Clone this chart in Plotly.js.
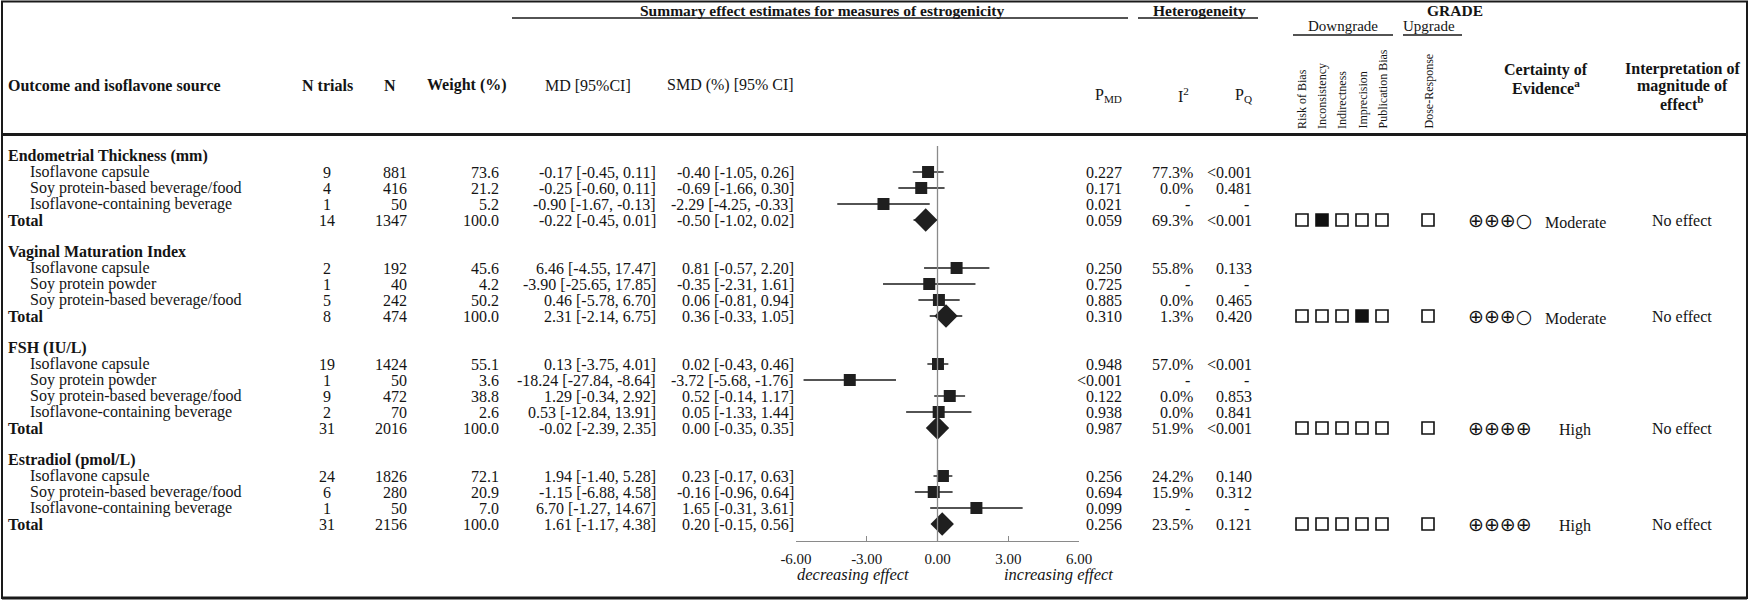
<!DOCTYPE html>
<html><head><meta charset="utf-8">
<script src="https://cdn.plot.ly/plotly-3.0.1.min.js"></script>
<style>html,body{margin:0;padding:0;background:#fff}</style>
</head><body><div id="chart" style="width:1750px;height:603px"></div>
<script>
// ---------------- DATA ----------------
const groupNames = ["Endometrial Thickness (mm)","Vaginal Maturation Index","FSH (IU/L)","Estradiol (pmol/L)"];
const rowGroup = [0,0,0,0, 1,1,1,1, 2,2,2,2,2, 3,3,3,3];
const sourceNames = [
 "Isoflavone capsule","Soy protein-based beverage/food","Isoflavone-containing beverage","Total",
 "Isoflavone capsule","Soy protein powder","Soy protein-based beverage/food","Total",
 "Isoflavone capsule","Soy protein powder","Soy protein-based beverage/food","Isoflavone-containing beverage","Total",
 "Isoflavone capsule","Soy protein-based beverage/food","Isoflavone-containing beverage","Total"];
const nTrials = [9,4,1,14, 2,1,5,8, 19,1,9,2,31, 24,6,1,31];
const nParticipants = [881,416,50,1347, 192,40,242,474, 1424,50,472,70,2016, 1826,280,50,2156];
const weightPct = [73.6,21.2,5.2,100.0, 45.6,4.2,50.2,100.0, 55.1,3.6,38.8,2.6,100.0, 72.1,20.9,7.0,100.0];
const md     = [-0.17,-0.25,-0.90,-0.22, 6.46,-3.90,0.46,2.31, 0.13,-18.24,1.29,0.53,-0.02, 1.94,-1.15,6.70,1.61];
const mdLow  = [-0.45,-0.60,-1.67,-0.45, -4.55,-25.65,-5.78,-2.14, -3.75,-27.84,-0.34,-12.84,-2.39, -1.40,-6.88,-1.27,-1.17];
const mdHigh = [0.11,0.11,-0.13,0.01, 17.47,17.85,6.70,6.75, 4.01,-8.64,2.92,13.91,2.35, 5.28,4.58,14.67,4.38];
const smd     = [-0.40,-0.69,-2.29,-0.50, 0.81,-0.35,0.06,0.36, 0.02,-3.72,0.52,0.05,0.00, 0.23,-0.16,1.65,0.20];
const smdLow  = [-1.05,-1.66,-4.25,-1.02, -0.57,-2.31,-0.81,-0.33, -0.43,-5.68,-0.14,-1.33,-0.35, -0.17,-0.96,-0.31,-0.15];
const smdHigh = [0.26,0.30,-0.33,0.02, 2.20,1.61,0.94,1.05, 0.46,-1.76,1.17,1.44,0.35, 0.63,0.64,3.61,0.56];
const pMD = ["0.227","0.171","0.021","0.059", "0.250","0.725","0.885","0.310", "0.948","<0.001","0.122","0.938","0.987", "0.256","0.694","0.099","0.256"];
const iSquared = ["77.3%","0.0%","-","69.3%", "55.8%","-","0.0%","1.3%", "57.0%","-","0.0%","0.0%","51.9%", "24.2%","15.9%","-","23.5%"];
const pQ = ["<0.001","0.481","-","<0.001", "0.133","-","0.465","0.420", "<0.001","-","0.853","0.841","<0.001", "0.140","0.312","-","0.121"];
const gradeCriteria = ["Risk of Bias","Inconsistency","Indirectness","Imprecision","Publication Bias"];
const downgradeFlags = [[0,1,0,0,0],[0,0,0,1,0],[0,0,0,0,0],[0,0,0,0,0]];
const doseResponse = [0,0,0,0];
const certaintySymbols = ["\u2295\u2295\u2295\u25CB","\u2295\u2295\u2295\u25CB","\u2295\u2295\u2295\u2295","\u2295\u2295\u2295\u2295"];
const certaintyLevel = ["Moderate","Moderate","High","High"];
const interpretation = ["No effect","No effect","No effect","No effect"];
const tickValues = [-6,-3,0,3,6];
const tickLabels = ["-6.00","-3.00","0.00","3.00","6.00"];
const decreasingLabel = "decreasing effect", increasingLabel = "increasing effect";

// ---------------- LAYOUT HELPERS ----------------
const W = 1750, H = 603;
const ROW0 = 156, ROWH = 16;
const FONT = "Liberation Serif, Times New Roman, serif";
const INK = "#141414";
const BODY = 16;
const px = v => v / W;
const py = v => 1 - v / H;

// row positions
const rowPos = [], headerPos = [];
let r = 0, prev = -1;
rowGroup.forEach((g) => {
  if (g !== prev) { if (prev >= 0) r += 1; headerPos.push(r); r += 1; prev = g; }
  rowPos.push(r); r += 1;
});
const isTotal = sourceNames.map(s => s === "Total");
const totalRowOfGroup = groupNames.map((_, g) => rowPos[rowGroup.findIndex((gg, i) => gg === g && isTotal[i])]);

const COL = {label: 7, indent: 29, ntr: 327, n: 408, w: 500, md: 657, smd: 795,
  pmd: 1123, i2: 1194, pq: 1253, grade: [1302, 1322, 1342, 1362, 1382], dose: 1428,
  cert: 1500, certLbl: 1575, interp: 1682};

const ann = [];
function T(text, x, y, opts) {
  opts = opts || {};
  ann.push(Object.assign({
    text: text, x: x, y: y, xref: opts.xref || "paper", yref: opts.yref || "y",
    showarrow: false, xanchor: opts.xa || "left", yanchor: opts.ya || "middle",
    font: {family: opts.family || FONT, size: opts.size || BODY, color: INK},
    borderpad: 0
  }, opts.extra || {}));
}
const f2 = v => v.toFixed(2);

// group headers
groupNames.forEach((g, i) => T("<b>" + g + "</b>", px(COL.label), headerPos[i]));
// rows
sourceNames.forEach((s, i) => {
  const y = rowPos[i];
  if (isTotal[i]) T("<b>" + s + "</b>", px(COL.label), y);
  else T(s, px(COL.indent), y);
  T(String(nTrials[i]), px(COL.ntr), y, {xa: "center"});
  T(String(nParticipants[i]), px(COL.n), y, {xa: "right"});
  T(weightPct[i].toFixed(1), px(COL.w), y, {xa: "right"});
  T(f2(md[i]) + " [" + f2(mdLow[i]) + ", " + f2(mdHigh[i]) + "]", px(COL.md), y, {xa: "right"});
  T(f2(smd[i]) + " [" + f2(smdLow[i]) + ", " + f2(smdHigh[i]) + "]", px(COL.smd), y, {xa: "right"});
  T(pMD[i], px(COL.pmd), y, {xa: "right"});
  T(iSquared[i], px(iSquared[i] === "-" ? COL.i2 - 3 : COL.i2), y, {xa: "right"});
  T(pQ[i], px(pQ[i] === "-" ? COL.pq - 3 : COL.pq), y, {xa: "right"});
});
// GRADE text per group
groupNames.forEach((g, i) => {
  const y = totalRowOfGroup[i];
  T(certaintySymbols[i], px(COL.cert), y, {xa: "center", family: "DejaVu Sans", size: 19});
  T(certaintyLevel[i], px(COL.certLbl), y + 0.15, {xa: "center"});
  T(interpretation[i], px(COL.interp), y, {xa: "center"});
});

// header texts (paper coordinates)
function HT(text, x, y, opts) { opts = opts || {}; opts.yref = "paper"; T(text, px(x), py(y), opts); }
HT("<b>Summary effect estimates for measures of estrogenicity</b>", 822, 10, {xa: "center", size: 15.5});
HT("<b>Heterogeneity</b>", 1199, 10, {xa: "center", size: 15.5});
HT("<b>GRADE</b>", 1455, 10, {xa: "center", size: 15.5});
HT("Downgrade", 1343, 26, {xa: "center", size: 15});
HT("Upgrade", 1429, 26, {xa: "center", size: 15});
HT("<b>Outcome and isoflavone source</b>", COL.label, 85);
HT("<b>N trials</b>", 327, 85, {xa: "center"});
HT("<b>N</b>", 390, 85, {xa: "center"});
HT("<b>Weight (%)</b>", 467, 85, {xa: "center"});
HT("MD [95%CI]", 588, 85, {xa: "center"});
HT("SMD (%) [95% CI]", 730, 85, {xa: "center"});
HT("P<sub>MD</sub>", 1108, 96, {xa: "center"});
HT("I<sup>2</sup>", 1183, 95, {xa: "center"});
HT("P<sub>Q</sub>", 1243, 96, {xa: "center"});
HT("<b>Certainty of</b>", 1546, 70, {xa: "center"});
HT("<b>Evidence<sup>a</sup></b>", 1546, 87, {xa: "center"});
HT("<b>Interpretation of</b>", 1682, 69, {xa: "center"});
HT("<b>magnitude of</b>", 1682, 86, {xa: "center"});
HT("<b>effect<sup>b</sup></b>", 1682, 103, {xa: "center"});
gradeCriteria.forEach((c, k) => HT(c, COL.grade[k], 130, {xa: "center", ya: "bottom", size: 12, extra: {textangle: -90}}));
HT("Dose-Response", COL.dose, 130, {xa: "center", ya: "bottom", size: 12, extra: {textangle: -90}});
HT("<i>" + decreasingLabel + "</i>", 853, 574, {xa: "center", size: 16.5});
HT("<i>" + increasingLabel + "</i>", 1058, 574, {xa: "center", size: 16.5});

// ---------------- TRACES ----------------
const idxStudy = sourceNames.map((s, i) => i).filter(i => !isTotal[i]);
const idxTotal = sourceNames.map((s, i) => i).filter(i => isTotal[i]);
const pick = (arr, idx) => idx.map(i => arr[i]);

const errBar = idx => ({type: "data", symmetric: false,
  array: idx.map(i => smdHigh[i] - smd[i]), arrayminus: idx.map(i => smd[i] - smdLow[i]),
  width: 0, thickness: 1.4, color: "#1a1a1a"});

const traces = [
  {type: "scatter", mode: "markers", x: pick(smd, idxStudy), y: pick(rowPos, idxStudy),
   xaxis: "x", yaxis: "y", marker: {symbol: "square", size: 12, color: "#1f1f1f"},
   error_x: errBar(idxStudy), hoverinfo: "skip", cliponaxis: false},
  {type: "scatter", mode: "markers", x: pick(smd, idxTotal), y: pick(rowPos, idxTotal),
   xaxis: "x", yaxis: "y", marker: {symbol: "diamond", size: 18, color: "#1f1f1f"},
   error_x: errBar(idxTotal), hoverinfo: "skip", cliponaxis: false}
];
// GRADE boxes
const gx = [], gy = [], gsym = [];
groupNames.forEach((g, i) => {
  downgradeFlags[i].forEach((f, k) => { gx.push(COL.grade[k]); gy.push(totalRowOfGroup[i]); gsym.push(f ? "square" : "square-open"); });
  gx.push(COL.dose); gy.push(totalRowOfGroup[i]); gsym.push(doseResponse[i] ? "square" : "square-open");
});
traces.push({type: "scatter", mode: "markers", x: gx, y: gy, xaxis: "x2", yaxis: "y",
  marker: {symbol: gsym, size: 12, color: "#111", line: {color: "#111", width: 1.6}}, hoverinfo: "skip", cliponaxis: false});

// ---------------- SHAPES ----------------
const L = (x0, y0, x1, y1, w, c) => ({type: "line", xref: "paper", yref: "paper", x0: px(x0), x1: px(x1), y0: py(y0), y1: py(y1), line: {color: c || "#1a1a1a", width: w || 1.5}});
const shapes = [
  {type: "rect", xref: "paper", yref: "paper", x0: px(2), x1: px(1747), y0: py(598), y1: py(1.5), line: {color: "#1a1a1a", width: 2}},
  L(2, 598, 1747, 598, 3),
  L(2, 134.5, 1747, 134.5, 3),
  L(512, 18, 1128, 18, 1.5),
  L(1138, 18, 1258, 18, 1.5),
  L(1293, 35, 1393, 35, 1.5),
  L(1403, 35, 1462, 35, 1.5),
  {type: "line", xref: "x", yref: "paper", x0: 0, x1: 0, y0: py(541), y1: py(146), line: {color: "#8a8a8a", width: 1.3}}
];

const layout = {
  width: W, height: H, margin: {l: 0, r: 0, t: 0, b: 0},
  paper_bgcolor: "#fff", plot_bgcolor: "rgba(0,0,0,0)", showlegend: false,
  xaxis: {domain: [px(796), px(1079)], range: [-6, 6], anchor: "free", position: py(541),
    showline: true, linecolor: "#8a8a8a", linewidth: 1.3, ticks: "inside", ticklen: 5, tickwidth: 1.3, tickcolor: "#8a8a8a",
    tickvals: tickValues, ticktext: tickLabels, tickfont: {family: FONT, size: 15, color: INK},
    showgrid: false, zeroline: false, fixedrange: true, ticklabelstandoff: 4},
  xaxis2: {domain: [0, 1], range: [0, W], anchor: "y", visible: false, fixedrange: true},
  yaxis: {domain: [0, 1], range: [(H - ROW0) / ROWH, -ROW0 / ROWH], visible: false, fixedrange: true},
  annotations: ann, shapes: shapes
};
Plotly.newPlot("chart", traces, layout, {staticPlot: true, displayModeBar: false});
</script></body></html>
